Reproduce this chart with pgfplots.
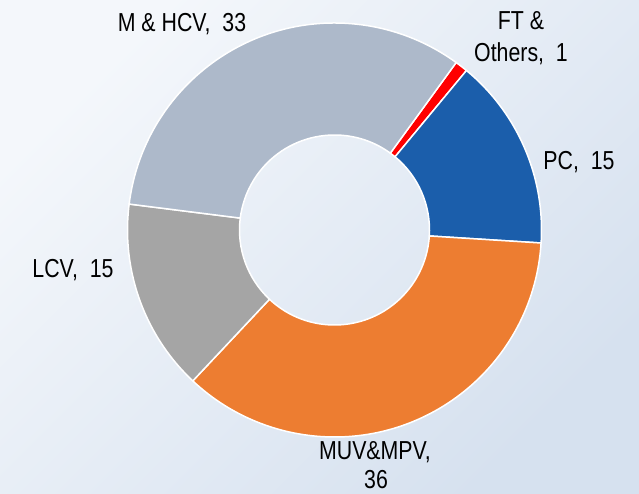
\documentclass[border=0pt]{standalone}
\usepackage{pgfplots}
\pgfplotsset{compat=1.18}
\usepackage{pgfplotstable}
\usepackage{fontspec}
\setmainfont{Liberation Sans}[FakeStretch=0.82]
\definecolor{cFT}{HTML}{FF0000}
\definecolor{cPC}{HTML}{1B5EAB}
\definecolor{cMUV}{HTML}{ED7D31}
\definecolor{cLCV}{HTML}{A5A5A5}
\definecolor{cMHCV}{HTML}{ADB9CA}
\definecolor{bgA}{HTML}{F4F7FB}
\definecolor{bgB}{HTML}{D6E1EF}
\pgfplotstableread[col sep=comma]{
key,value,color
FT,1,cFT
PC,15,cPC
MUV,36,cMUV
LCV,15,cLCV
MHCV,33,cMHCV
}\sharetable
\def\angcur{54}%
\pgfplotsforeachungrouped \i in {0,...,4}{%
  \pgfplotstablegetelem{\i}{value}\of\sharetable
  \pgfmathsetmacro\angnext{\angcur-3.6*\pgfplotsretval}%
  \expandafter\xdef\csname sa\i\endcsname{\angcur}%
  \expandafter\xdef\csname sb\i\endcsname{\angnext}%
  \pgfplotstablegetelem{\i}{color}\of\sharetable
  \expandafter\xdef\csname sc\i\endcsname{\pgfplotsretval}%
  \global\let\angcur\angnext
}%
\begin{document}
\begin{tikzpicture}[font=\fontsize{26pt}{30pt}\selectfont]
\begin{axis}[x=1pt, y=1pt, xmin=0, xmax=639, ymin=0, ymax=493,
  hide axis, clip=false]
\fill[top color=bgA, bottom color=bgB, shading angle=45]
  (axis cs:0,0) rectangle (axis cs:639,493);
\pgfplotsinvokeforeach{0,...,4}{%
  \edef\temp{\noexpand\fill[fill=\csname sc#1\endcsname, draw=white, line width=1.5pt]
    ([shift={(\csname sa#1\endcsname:207pt)}]axis cs:334.5,263)
    arc[start angle=\csname sa#1\endcsname, end angle=\csname sb#1\endcsname, radius=207pt]
    -- ([shift={(\csname sb#1\endcsname:95pt)}]axis cs:334.5,263)
    arc[start angle=\csname sb#1\endcsname, end angle=\csname sa#1\endcsname, radius=95pt]
    -- cycle;}%
  \temp
}
\node[anchor=base, inner sep=0] at (axis cs:182,461.3) {M \& HCV,~~33};
\node[anchor=base, inner sep=0] at (axis cs:521,463) {FT \&};
\node[anchor=base, inner sep=0] at (axis cs:521,431) {Others,~~1};
\node[anchor=base, inner sep=0] at (axis cs:579,323) {PC,~~15};
\node[anchor=base, inner sep=0] at (axis cs:73,216) {LCV,~~15};
\node[anchor=base, inner sep=0] at (axis cs:375,34) {MUV\&MPV,};
\node[anchor=base, inner sep=0] at (axis cs:376,4.5) {36};
\end{axis}
\end{tikzpicture}
\end{document}
